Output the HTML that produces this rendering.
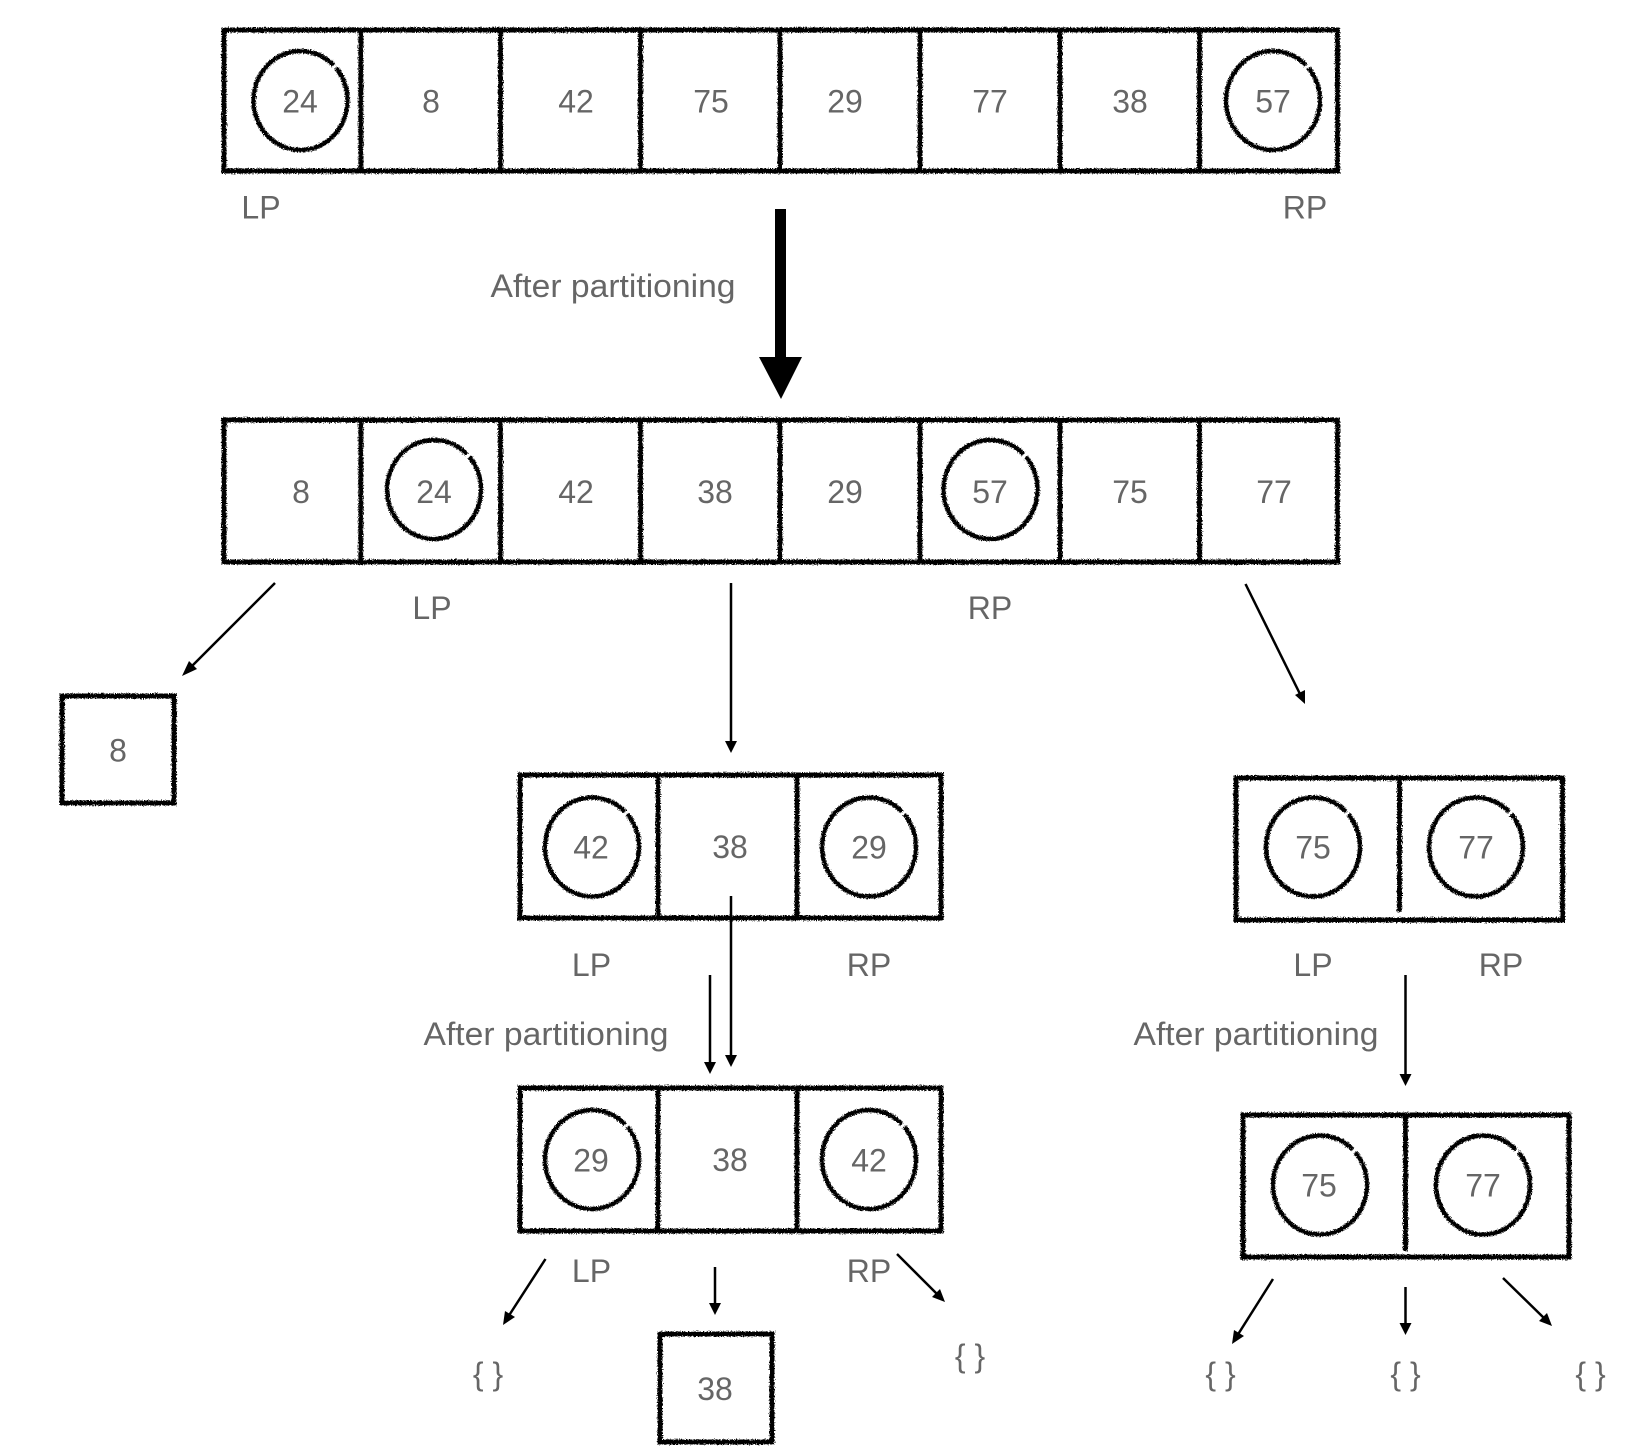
<!DOCTYPE html>
<html><head><meta charset="utf-8"><style>
html,body{margin:0;padding:0;background:#fff;width:1630px;height:1456px;overflow:hidden}
svg{display:block}
text{font-family:"Liberation Sans",sans-serif;font-size:32px;fill:#666;text-anchor:middle}
.r rect,.r path,.r ellipse{fill:none;stroke:#000;stroke-width:5}
.r ellipse{stroke-width:4.5;stroke-dasharray:356 4;stroke-dashoffset:42}
.a line{stroke:#000;stroke-width:2.5}
.a polygon{fill:#000}
</style></head><body>
<svg width="1630" height="1456" viewBox="0 0 1630 1456" xmlns="http://www.w3.org/2000/svg">
<defs><filter id="s" x="-2%" y="-2%" width="104%" height="104%" filterUnits="userSpaceOnUse" primitiveUnits="userSpaceOnUse">
<feTurbulence type="fractalNoise" baseFrequency="0.85" numOctaves="2" seed="4" result="n"/>
<feDisplacementMap in="SourceGraphic" in2="n" scale="4.5" xChannelSelector="R" yChannelSelector="G"/>
</filter></defs>

<g class="r" filter="url(#s)">
<!-- row 1 -->
<rect x="224" y="30" width="1113.500" height="141"/>
<path d="M360.800 30V171M500.500 30V171M640.500 30V171M780 30V171M920 30V171M1060 30V171M1199.500 30V171"/>
<ellipse pathLength="360" cx="300.500" cy="100.500" rx="47" ry="49.500"/>
<ellipse pathLength="360" cx="1273" cy="100.500" rx="47" ry="49.500"/>
<!-- row 2 -->
<rect x="224" y="420" width="1113.500" height="142"/>
<path d="M360.800 420V562M500.500 420V562M640.500 420V562M780 420V562M920 420V562M1060 420V562M1199.500 420V562"/>
<ellipse pathLength="360" cx="434" cy="489.500" rx="47" ry="49.500"/>
<ellipse pathLength="360" cx="990.500" cy="489.500" rx="47" ry="49.500"/>
<!-- box 8 -->
<rect x="62" y="696" width="112" height="107"/>
<!-- 3 cell A -->
<rect x="520" y="775" width="421" height="143"/>
<path d="M658 775V918M797 775V918"/>
<ellipse pathLength="360" cx="592" cy="847" rx="47" ry="49.500"/>
<ellipse pathLength="360" cx="869" cy="847" rx="47" ry="49.500"/>
<!-- 2 cell A -->
<rect x="1236" y="778" width="326.500" height="142"/>
<path d="M1399.500 778V912"/>
<ellipse pathLength="360" cx="1313" cy="847" rx="47" ry="49.500"/>
<ellipse pathLength="360" cx="1476" cy="847" rx="47" ry="49.500"/>
<!-- 3 cell B -->
<rect x="520" y="1088" width="421" height="143"/>
<path d="M658 1088V1231M797 1088V1231"/>
<ellipse pathLength="360" cx="592" cy="1159.500" rx="47" ry="49.500"/>
<ellipse pathLength="360" cx="869" cy="1159.500" rx="47" ry="49.500"/>
<!-- 2 cell B -->
<rect x="1243" y="1115" width="326" height="142"/>
<path d="M1405.500 1115V1251"/>
<ellipse pathLength="360" cx="1320" cy="1185" rx="47" ry="49.500"/>
<ellipse pathLength="360" cx="1483" cy="1185" rx="47" ry="49.500"/>
<!-- box 38 -->
<rect x="660" y="1334" width="112" height="108"/>
</g>

<!-- big arrow -->
<rect x="775" y="209" width="11" height="150" fill="#000"/>
<polygon points="759,357 802,357 781,399" fill="#000"/>

<g class="a">
<line x1="275" y1="583" x2="190" y2="668"/><polygon points="182,676 189,661 197,669"/>
<line x1="731" y1="583" x2="731" y2="745"/><polygon points="731,753 725,741 737,741"/>
<line x1="1245.500" y1="584" x2="1300" y2="694"/><polygon points="1305,704 1295,695 1305,690"/>
<line x1="731" y1="896" x2="731" y2="1058"/><polygon points="731,1067 725,1055 737,1055"/>
<line x1="710" y1="975" x2="710" y2="1065"/><polygon points="710,1074 704,1062 716,1062"/>
<line x1="1405.500" y1="975" x2="1405.500" y2="1078"/><polygon points="1405.500,1086 1399.500,1074 1411.500,1074"/>
<line x1="545.500" y1="1259" x2="508" y2="1317"/><polygon points="503,1325 505,1311 515,1317"/>
<line x1="715" y1="1267" x2="715" y2="1306"/><polygon points="715,1315 709,1303 721,1303"/>
<line x1="897" y1="1254" x2="939" y2="1296"/><polygon points="945,1302 932,1297 940,1289"/>
<line x1="1273" y1="1279" x2="1237" y2="1336"/><polygon points="1232,1344 1234,1330 1244,1336"/>
<line x1="1405.500" y1="1287" x2="1405.500" y2="1326"/><polygon points="1405.500,1335 1399.500,1323 1411.500,1323"/>
<line x1="1503" y1="1278" x2="1546" y2="1320"/><polygon points="1552,1326 1539,1321 1547,1313"/>
</g>

<g>
<text x="300" y="112.500">24</text><text x="431" y="112.500">8</text><text x="576" y="112.500">42</text><text x="711" y="112.500">75</text><text x="845" y="112.500">29</text><text x="990" y="112.500">77</text><text x="1130" y="112.500">38</text><text x="1273" y="112.500">57</text>
<text x="261" y="218.500">LP</text><text x="1305" y="218.500">RP</text>
<text x="613" y="297" textLength="245" lengthAdjust="spacingAndGlyphs">After partitioning</text>
<text x="301" y="503">8</text><text x="434" y="503">24</text><text x="576" y="503">42</text><text x="715" y="503">38</text><text x="845" y="503">29</text><text x="990" y="503">57</text><text x="1130" y="503">75</text><text x="1274" y="503">77</text>
<text x="432" y="619">LP</text><text x="990" y="619">RP</text>
<text x="118" y="761.500">8</text>
<text x="591" y="858.500">42</text><text x="730" y="858">38</text><text x="869" y="858.500">29</text>
<text x="1313" y="858.500">75</text><text x="1476" y="858.500">77</text>
<text x="591.500" y="976">LP</text><text x="869" y="976">RP</text><text x="1313" y="976">LP</text><text x="1501" y="976">RP</text>
<text x="546" y="1045" textLength="245" lengthAdjust="spacingAndGlyphs">After partitioning</text>
<text x="1256" y="1045" textLength="245" lengthAdjust="spacingAndGlyphs">After partitioning</text>
<text x="591" y="1171.500">29</text><text x="730" y="1171">38</text><text x="869" y="1171.500">42</text>
<text x="1319" y="1196.500">75</text><text x="1483" y="1196.500">77</text>
<text x="591.500" y="1282">LP</text><text x="869" y="1282">RP</text>
<text x="715" y="1400">38</text>
<text x="488" y="1385">{ }</text><text x="970" y="1367">{ }</text>
<text x="1220.500" y="1385">{ }</text><text x="1405.500" y="1385">{ }</text><text x="1590.500" y="1385">{ }</text>
</g>
</svg>
</body></html>
